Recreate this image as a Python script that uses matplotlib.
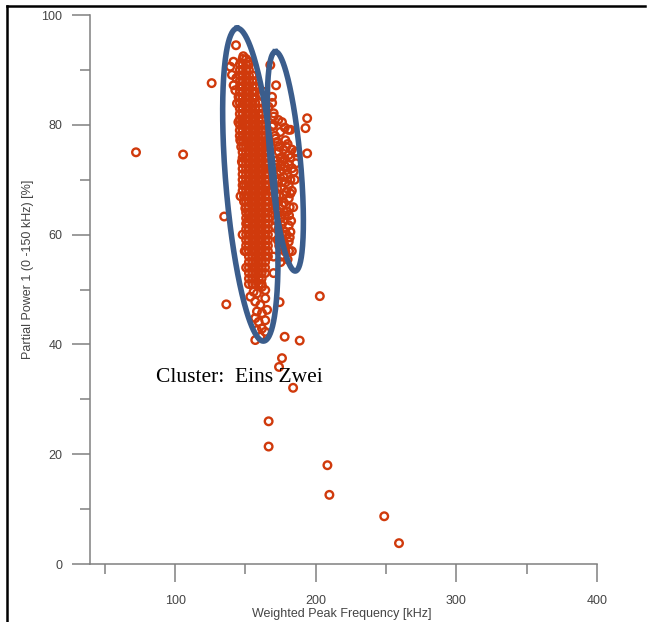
import numpy as np
import matplotlib.pyplot as plt
from matplotlib.lines import Line2D

plt.rcParams['font.family'] = ['Liberation Sans', 'DejaVu Sans']

# --- Messwerte: Weighted Peak Frequency [kHz] / Partial Power 1 [%] ---
# Einzelpunkte ausserhalb der Cluster
outlier_x = [72.2, 105.7, 126.0, 134.9, 136.4, 174.3, 202.9, 177.9, 188.6,
             176.0, 173.9, 183.9, 166.5, 166.5, 208.3, 209.7, 248.7, 259.2]
outlier_y = [75.0, 74.6, 87.6, 63.3, 47.3, 47.7, 48.8, 41.4, 40.7,
             37.5, 35.9, 32.1, 26.0, 21.4, 18.0, 12.6, 8.7, 3.8]

band_y = [92, 91, 90, 89, 88, 87, 86, 85, 84, 83, 82, 81, 80, 79, 78, 77, 76,
          75, 74, 73, 72, 71, 70, 69, 68, 67, 66, 65, 64, 63, 62, 61, 60, 59,
          58, 57, 56, 55, 54, 53, 52, 51]
band_x = [
    [148, 150.5],
    [146, 148, 150.5, 152.5],
    [146, 148, 150.5, 152.5],
    [146, 148, 150.5, 152.5, 155],
    [146, 148, 150.5, 152.5, 155],
    [146, 148, 150.5, 152.5, 155, 157],
    [146, 148, 150.5, 152.5, 155, 157],
    [146, 148, 150.5, 152.5, 155, 157],
    [146, 148, 150.5, 152.5, 155, 157, 159.5],
    [146, 148, 150.5, 152.5, 155, 157, 159.5],
    [146, 148, 150.5, 152.5, 155, 157, 159.5, 161.5],
    [146, 148, 150.5, 152.5, 155, 157, 159.5, 161.5],
    [146, 148, 150.5, 152.5, 155, 157, 159.5, 161.5, 164],
    [146, 148, 150.5, 152.5, 155, 157, 159.5, 161.5, 164],
    [146, 148, 150.5, 152.5, 155, 157, 159.5, 161.5, 164],
    [147, 148.5, 150.5, 152.5, 155, 157, 159.5, 161.5, 164, 166],
    [147, 148.5, 150.5, 152.5, 155, 157, 159.5, 161.5, 164, 166],
    [148, 150.5, 152.5, 155, 157, 159.5, 161.5, 164, 166],
    [148, 150.5, 152.5, 155, 157, 159.5, 161.5, 164, 166],
    [148, 150.5, 152.5, 155, 157, 159.5, 161.5, 164, 166],
    [148, 150.5, 152.5, 155, 157, 159.5, 161.5, 164, 166],
    [148, 150.5, 152.5, 155, 157, 159.5, 161.5, 164, 166],
    [148, 150.5, 152.5, 155, 157, 159.5, 161.5, 164, 166],
    [148, 150.5, 152.5, 155, 157, 159.5, 161.5, 164, 166],
    [148, 150.5, 152.5, 155, 157, 159.5, 161.5, 164, 166],
    [149, 150.5, 152.5, 155, 157, 159.5, 161.5, 164, 166],
    [149, 150.5, 152.5, 155, 157, 159.5, 161.5, 164, 166],
    [150.5, 152.5, 155, 157, 159.5, 161.5, 164, 166],
    [150.5, 152.5, 155, 157, 159.5, 161.5, 164, 166],
    [150.5, 152.5, 155, 157, 159.5, 161.5, 164, 166],
    [150.5, 152.5, 155, 157, 159.5, 161.5, 164, 166],
    [150.5, 152.5, 155, 157, 159.5, 161.5, 164, 166],
    [150.5, 152.5, 155, 157, 159.5, 161.5, 164, 166],
    [150.5, 152.5, 155, 157, 159.5, 161.5, 164, 166],
    [150.5, 152.5, 155, 157, 159.5, 161.5, 164, 166],
    [150.5, 152.5, 155, 157, 159.5, 161.5, 164, 166],
    [152.5, 155, 157, 159.5, 161.5, 164, 166],
    [152.5, 155, 157, 159.5, 161.5, 164],
    [152.5, 155, 157, 159.5, 161.5, 164],
    [152.5, 155, 157, 159.5, 161.5, 164],
    [152.5, 155, 157, 159.5, 161.5],
    [152.5, 155, 157, 159.5, 161.5],
]

# Cluster "Eins": lockere Punkte am Rand und am unteren Ende
fringe_x = [143.3, 148.5, 152.3, 139.2, 140.4, 141.6, 142.8, 145.1, 144.0,
            143.5, 141.5, 158.0, 160.5, 164.1, 166.5, 146.3, 147.5, 148.7,
            149.9, 151.1, 145.0, 146.5, 148.0, 149.5, 150.5,
            155.8, 153.5, 158.2, 161.8, 164.1, 157.0, 160.6, 164.1, 158.2,
            161.8, 165.4, 157.0, 159.4, 164.1, 161.8, 158.2, 164.1, 160.6,
            157.0]
fringe_y = [94.5, 92.5, 91.5, 90.6, 89.1, 87.2, 86.3, 85.1, 83.9,
            88.5, 91.5, 88.0, 85.5, 86.0, 83.3, 77.2, 73.3, 69.0,
            64.8, 62.3, 80.5, 67.0, 60.0, 57.0, 54.0,
            49.6, 48.7, 49.3, 50.5, 49.9, 47.8, 47.2, 48.4, 46.0,
            45.7, 46.3, 44.8, 44.1, 44.4, 42.9, 42.6, 42.3, 41.4,
            40.8]

# Cluster "Zwei"
zwei_x = [167.7, 171.8, 168.9, 170.1, 170.1, 168.9, 173.4, 180.5,
          193.9, 192.7, 182.0, 174.8, 172.5, 178.4, 185.5, 193.9, 173.6,
          180.8, 176.1, 183.2, 179.6, 174.8, 184.3, 176.1, 180.8, 177.2,
          180.8, 176.1, 179.6, 177.2, 180.8, 178.4, 180.8, 178.4, 172.5,
          173.6, 172.5, 171.3, 187.0,
          170, 176, 179, 175, 182, 178, 173, 177, 183, 174, 179, 175, 181,
          176, 182, 177, 183, 176, 174, 180, 184, 172, 171, 185, 186, 178,
          169, 171, 168, 168, 168, 169, 169, 170, 170,
          171.5, 174, 177, 180, 183, 172, 178, 181, 175, 179.5, 172.5, 182,
          175.5, 178.5, 182, 173.5, 177.5, 181.5, 170.5, 174.5, 178, 182.5,
          171, 175.5, 179, 173, 176.5, 181.5, 178, 175, 181]
zwei_y = [90.9, 87.2, 85.1, 82.1, 81.5, 79.7, 80.9, 79.1,
          81.2, 79.4, 79.1, 78.7, 76.9, 77.2, 75.1, 74.8, 75.1,
          74.5, 73.3, 72.1, 70.9, 71.5, 71.5, 69.6, 69.0, 67.2,
          66.6, 65.4, 64.2, 62.4, 61.7, 60.5, 58.7, 56.9, 64.2,
          61.1, 68.4, 72.7, 75.0,
          80, 80.5, 76, 74, 74, 72.5, 70, 70.5, 68, 67, 67.8, 63, 63.5,
          60, 60.5, 58.5, 57, 56, 58, 55.5, 65, 62.5, 66, 70, 73, 79.5,
          84, 78, 76, 72, 68, 64, 60, 56, 53,
          77.5, 76, 75.5, 76.5, 75.5, 73.5, 73.8, 72.8, 72.5, 71.8, 71, 70,
          68.5, 69.5, 67.5, 66, 65.8, 65, 64.5, 64.8, 63.5, 62.5,
          61.5, 61.8, 60, 59, 57.8, 59.5, 58, 55, 57]

# Umrandung der Cluster: Mittelpunkt, halbe Hauptachse, halbe Nebenachse
cluster_rings = [
    (153.5, 69.1, -9.48, 28.49, 17.25, 0.375),
    (178.4, 73.35, -7.13, 19.98, 10.65, 0.248),
]

point_color = '#d03a0c'
ring_color = '#3b5d8c'
axis_color = '#808080'

fig = plt.figure(figsize=(6.49, 6.22), dpi=100)
ax = fig.add_axes([0.1387, 0.0932, 0.7812, 0.8826])

bx = [x for row in band_x for x in row]
by = [y for y, row in zip(band_y, band_x) for _ in row]

all_x = np.concatenate([outlier_x, fringe_x, zwei_x, bx])
all_y = np.concatenate([outlier_y, fringe_y, zwei_y, by])
ax.scatter(all_x, all_y, s=30, marker='o', facecolors='none',
           edgecolors=point_color, linewidths=1.7, zorder=2, clip_on=False)

t = np.linspace(0, 2 * np.pi, 300)
for cx, cy, ux, uy, vx, vy in cluster_rings:
    ax.plot(cx + ux * np.cos(t) + vx * np.sin(t),
            cy + uy * np.cos(t) + vy * np.sin(t),
            color=ring_color, lw=4.0, zorder=3, clip_on=False)

ax.text(0.130, 0.3315, 'Cluster:  Eins Zwei', transform=ax.transAxes,
        family=['Liberation Serif', 'DejaVu Serif'], fontsize=15.5,
        color='black', ha='left', va='baseline', zorder=4)

ax.set_xlim(39.5, 400)
ax.set_ylim(0, 100)
ax.set_xticks([100, 200, 300, 400])
ax.set_xticks([50, 150, 250, 350], minor=True)
ax.set_yticks([0, 20, 40, 60, 80, 100])
ax.set_yticks([10, 30, 50, 70, 90], minor=True)

for side in ['top', 'right']:
    ax.spines[side].set_visible(False)
for side in ['left', 'bottom']:
    ax.spines[side].set_color(axis_color)
    ax.spines[side].set_linewidth(1.1)

ax.tick_params(which='major', length=13, width=1.1, color=axis_color,
               labelsize=9, labelcolor='#444444')
ax.tick_params(which='minor', length=7, width=1.1, color=axis_color)
ax.tick_params(axis='x', which='major', pad=9.5)
ax.tick_params(axis='y', which='major', pad=7)

ax.set_xlabel('Weighted Peak Frequency [kHz]', fontsize=9, color='#444444')
ax.set_ylabel('Partial Power 1 (0 -150 kHz) [%]', fontsize=9, color='#444444')
ax.xaxis.set_label_coords(0.496, -0.081)
ax.yaxis.set_label_coords(-0.111, 0.537)

# schwarzer Rahmen oben und links
fig.add_artist(Line2D([7 / 649, 645 / 649], [1 - 6 / 622, 1 - 6 / 622],
                      transform=fig.transFigure, color='black', lw=1.8))
fig.add_artist(Line2D([7 / 649, 7 / 649], [0, 1 - 6 / 622],
                      transform=fig.transFigure, color='black', lw=1.8))

fig.savefig('out.png', dpi=100)
